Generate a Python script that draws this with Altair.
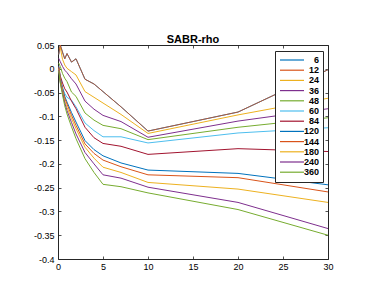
import altair as alt
import pandas as pd

tenors = [0.083, 0.25, 0.5, 0.75, 1, 1.5, 2, 3, 4, 5, 7, 10, 20, 30]
expiries = ["6", "12", "24", "36", "48", "60", "84", "120", "144", "180", "240", "360"]

s6 = [0.030, 0.050, 0.035, 0.021, 0.032, 0.014, 0.021, -0.022, -0.032, -0.048, -0.080, -0.131, -0.091, -0.002]
s12 = [0.030, 0.050, 0.035, 0.021, 0.032, 0.014, 0.021, -0.022, -0.032, -0.048, -0.080, -0.131, -0.091, -0.002]
s24 = [0.042, 0.045, 0.020, 0.008, 0.001, -0.006, -0.013, -0.048, -0.060, -0.072, -0.096, -0.136, -0.097, -0.062]
s36 = [0.022, 0.015, 0.005, -0.003, -0.008, -0.021, -0.032, -0.068, -0.085, -0.098, -0.111, -0.144, -0.110, -0.084]
s48 = [0.012, 0.005, -0.010, -0.020, -0.027, -0.049, -0.058, -0.093, -0.108, -0.119, -0.126, -0.149, -0.123, -0.103]
s60 = [0.000, -0.020, -0.040, -0.052, -0.060, -0.066, -0.080, -0.114, -0.130, -0.143, -0.143, -0.156, -0.135, -0.124]
s84 = [0.005, -0.015, -0.030, -0.042, -0.049, -0.068, -0.084, -0.123, -0.145, -0.157, -0.163, -0.180, -0.168, -0.174]
s120 = [0.005, -0.020, -0.040, -0.058, -0.070, -0.092, -0.112, -0.151, -0.170, -0.183, -0.198, -0.213, -0.220, -0.244]
s144 = [0.003, -0.022, -0.043, -0.062, -0.074, -0.098, -0.119, -0.158, -0.178, -0.192, -0.206, -0.223, -0.229, -0.259]
s180 = [0.000, -0.025, -0.047, -0.068, -0.081, -0.105, -0.126, -0.165, -0.188, -0.207, -0.218, -0.239, -0.253, -0.281]
s240 = [-0.002, -0.028, -0.050, -0.072, -0.088, -0.113, -0.137, -0.176, -0.200, -0.223, -0.230, -0.249, -0.281, -0.336]
s360 = [-0.004, -0.030, -0.055, -0.078, -0.095, -0.122, -0.147, -0.189, -0.218, -0.243, -0.248, -0.261, -0.296, -0.350]

series = [s6, s12, s24, s36, s48, s60, s84, s120, s144, s180, s240, s360]
colors = ["#0072BD", "#D95319", "#EDB120", "#7E2F8E", "#77AC30", "#4DBEEE", "#A2142F",
          "#0072BD", "#D95319", "#EDB120", "#7E2F8E", "#77AC30"]

x_ticks = [0, 5, 10, 15, 20, 25, 30]
y_ticks = [0.05, 0, -0.05, -0.1, -0.15, -0.2, -0.25, -0.3, -0.35, -0.4]

rows = []
for i, (lab, vals) in enumerate(zip(expiries, series)):
    for t, v in zip(tenors, vals):
        rows.append({"tenor": t, "rho": v, "expiry": lab, "k": i})
df = pd.DataFrame(rows)

FONT = "Liberation Sans"
AX = "#262626"

xs = alt.Scale(domain=[0, 30], nice=False, zero=False)
ys = alt.Scale(domain=[-0.4, 0.05], nice=False, zero=False)

def ax(orient, values, labels=True, pad=3):
    return alt.Axis(orient=orient, values=values, labels=labels, title=None, grid=False,
                    domain=False, ticks=True, tickSize=3, offset=-3, tickColor=AX,
                    tickWidth=0.8, labelFont=FONT, labelFontSize=9, labelColor="#000000",
                    labelPadding=pad, labelExpr="datum.value + ''", labelOverlap=False,
                    labelFlush=False)

lines = alt.Chart(df).transform_filter(alt.datum.expiry != "12").mark_line(
    strokeWidth=1, clip=True).encode(
    x=alt.X("tenor:Q", scale=xs, axis=ax("bottom", x_ticks, pad=3)),
    y=alt.Y("rho:Q", scale=ys, axis=ax("left", y_ticks, pad=4)),
    color=alt.Color("expiry:N", sort=expiries,
                    scale=alt.Scale(domain=expiries, range=colors),
                    legend=alt.Legend(orient="none", legendX=217, legendY=6, title=None,
                                      symbolType="M-1,0H5", symbolSize=64,
                                      symbolStrokeWidth=1.2, labelAlign="right",
                                      labelOffset=30, labelFont=FONT, labelFontSize=9,
                                      labelFontWeight="bold", labelColor="#000000",
                                      strokeColor=AX, fillColor="white", padding=4,
                                      rowPadding=0.2)),
    order=alt.Order("k:Q"),
    detail="k:Q",
)

line12 = alt.Chart(df).transform_filter(alt.datum.expiry == "12").mark_line(
    strokeWidth=1, clip=True, color="#D95319", strokeOpacity=0.8).encode(
    x=alt.X("tenor:Q", scale=xs, axis=None),
    y=alt.Y("rho:Q", scale=ys, axis=None),
    order=alt.Order("k:Q"),
)

frame_axes = alt.Chart(df).mark_point(opacity=0).encode(
    x=alt.X("tenor:Q", scale=xs, axis=ax("top", x_ticks, labels=False)),
    y=alt.Y("rho:Q", scale=ys, axis=ax("right", y_ticks, labels=False)),
)

chart = alt.layer(lines, line12, frame_axes).properties(
    width=270, height=214,
    title=alt.TitleParams("SABR-rho", font=FONT, fontSize=11, fontWeight="bold",
                          anchor="middle", offset=-4, color="#000000"),
    autosize=alt.AutoSizeParams(type="none"),
    padding={"left": 50, "top": 37, "right": 20, "bottom": 17},
).configure_view(stroke=AX, strokeWidth=1)

chart.save("out.html", embed_options={"renderer": "svg", "actions": False})
